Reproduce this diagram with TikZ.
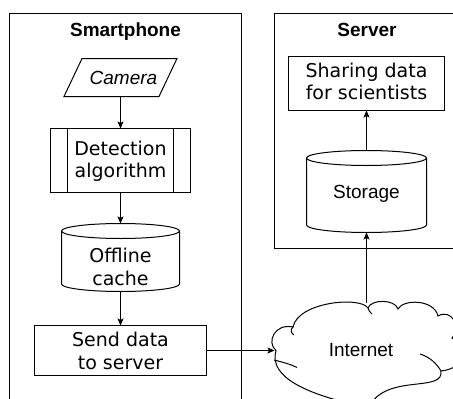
\documentclass[tikz,border=0pt]{standalone}
\usepackage{fontspec}
\setmainfont{DejaVu Sans}
\newfontfamily\arialfont{Liberation Sans}
\usetikzlibrary{arrows.meta,calc}
\newcommand\cylpath[2]{%
  \draw[fill=white] ($(#1.north west)+(0,7.5)$) -- ($(#1.south west)+(0,-7.5)$)
    arc[start angle=180,end angle=360,x radius=#2,y radius=7.5pt]
    -- ($(#1.north east)+(0,7.5)$)
    arc[start angle=0,end angle=180,x radius=#2,y radius=7.5pt] -- cycle;
  \draw ($(#1.north west)+(0,7.5)$) arc[start angle=180,end angle=360,x radius=#2,y radius=7.5pt];
}
\begin{document}
\begin{tikzpicture}[x=1pt,y=-1pt,line width=1pt,
  box/.style={rectangle,inner sep=0pt,outer sep=0pt},
  lbl/.style={anchor=base,inner sep=0pt,outer sep=0pt,align=center,font=\fontsize{19pt}{22.5pt}\selectfont},
  albl/.style={lbl,font=\fontsize{19pt}{22.5pt}\selectfont\arialfont},
  tlbl/.style={lbl,font=\fontsize{19pt}{22.5pt}\selectfont\arialfont\bfseries},
  ilbl/.style={lbl,font=\fontsize{19pt}{22.5pt}\selectfont\arialfont\itshape},
  arr/.style={-{Stealth[length=7pt,width=6pt,inset=1.5pt]}}]
\useasboundingbox (0,0) rectangle (453,399);
\clip (0,0) rectangle (453,399);

% containers
\draw (9.5,420) -- (9.5,13.5) -- (241.5,13.5) -- (241.5,420);
\draw (274.5,13.5) rectangle (470,248.5);

% smartphone column
\node[box,minimum width=113pt,minimum height=38pt] (cam) at (120.5,77.5) {};
\draw (cam.south west) -- ($(cam.south east)+(-18,0)$) -- (cam.north east) -- ($(cam.north west)+(18,0)$) -- cycle;

\node[box,draw,minimum width=140pt,minimum height=64pt] (det) at (120.5,160.5) {};
\draw ($(det.north west)+(17,0)$) -- ($(det.south west)+(17,0)$);
\draw ($(det.north east)+(-17,0)$) -- ($(det.south east)+(-17,0)$);

\node[box,minimum width=118pt,minimum height=68pt] (cache) at (120.5,257.5) {};
\cylpath{cache}{59pt}

\node[box,draw,minimum width=172pt,minimum height=50pt] (send) at (120.5,350.5) {};

% server column
\node[box,draw,minimum width=156pt,minimum height=54pt] (share) at (366.5,83.5) {};
\node[box,minimum width=120pt,minimum height=82pt] (store) at (366.5,191.5) {};
\cylpath{store}{60pt}

% internet cloud
\node[box,minimum width=184pt,minimum height=96pt] (net) at (366.5,350.5) {};
\draw[fill=white] (276,350.5)
  .. controls (266,342) and (275,323) .. (293,327)
  .. controls (298,302) and (360,296) .. (368,308)
  .. controls (371,299) and (395,299) .. (398,309)
  .. controls (403,299) and (434,299) .. (438,316)
  .. controls (452,308) and (462,328) .. (452,338)
  .. controls (468,345) and (468,368) .. (441,371)
  .. controls (444,392) and (392,375) .. (372,402)
  -- (352,404)
  .. controls (310,394) and (268,378) .. (276,350.5) -- cycle;
\draw (274,360) .. controls (282,362) and (290,364) .. (297,367.5);
\draw (293,327) .. controls (290,330) and (291,333) .. (294,335);
\draw (368,308) .. controls (369,311) .. (372,314);
\draw (420,354) .. controls (430,357) and (437,364) .. (441,371);

% connectors
\draw[arr] (cam.south) -- (det.north);
\draw[arr] (det.south) -- (cache.north);
\draw[arr] (cache.south) -- (send.north);
\draw[arr] (send.east) -- (net.west);
\draw[arr] (net.north) -- (store.south);
\draw[arr] (store.north) -- (share.south);

% texts
\node[tlbl] (tsp) at (125.5,36) {Smartphone};
\node[tlbl] (tsv) at (367,36) {Server};
\node[ilbl] (camt) at (123.5,84.5) {Camera};
\node[lbl] (dett) at (120.5,177.5) {Detection\\algorithm};
\node[lbl] (cachet) at (120.5,285.2) {Offline\\cache};
\node[lbl] (sendt) at (120.5,369.2) {Send data\\to server};
\node[lbl] (sharet) at (366.5,99.8) {Sharing data\\for scientists};
\node[albl] (storet) at (366.5,198) {Storage};
\node[albl] (nett) at (361,356) {Internet};
\end{tikzpicture}
\end{document}
